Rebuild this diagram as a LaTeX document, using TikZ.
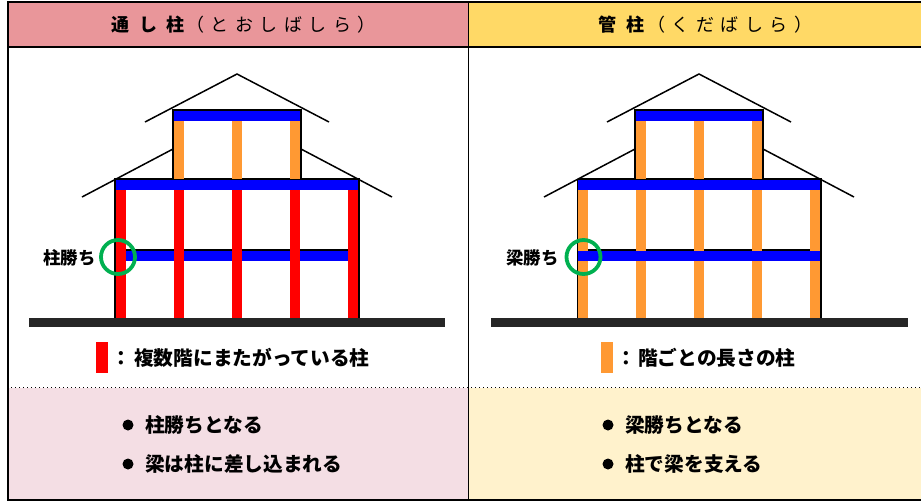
\documentclass[tikz,border=0pt]{standalone}
\usepackage{fontspec}
\setmainfont{Noto Sans CJK JP}
\newfontfamily\headbold[LetterSpace=55]{Noto Sans CJK JP}
\newfontfamily\headkana[LetterSpace=36]{Noto Sans CJK JP}
\begin{document}
\begin{tikzpicture}[x=1pt,y=-1pt]
	\tikzstyle{beam}=[fill={rgb,255:red,0;green,0;blue,255}]
	\tikzstyle{tori}=[fill={rgb,255:red,255;green,0;blue,0}]
	\tikzstyle{kuda}=[fill={rgb,255:red,255;green,153;blue,51}]
	\tikzstyle{ground}=[fill=black!85]
	\tikzstyle{roof}=[draw,line width=1.5pt]
	\tikzstyle{wall}=[draw,line width=2pt]
	\tikzstyle{ring}=[draw={rgb,255:red,0;green,176;blue,80},line width=3.8pt]
	\tikzstyle{label}=[inner sep=0pt,anchor=west,font=\bfseries\fontsize{17.4}{20}\selectfont]
	\tikzstyle{legend}=[inner sep=0pt,anchor=west,font=\bfseries\fontsize{19.7}{22}\selectfont]
	\tikzstyle{head}=[inner sep=0pt,anchor=west,font=\fontsize{18}{20}\selectfont]

	\useasboundingbox (0,0) rectangle (921,501);

	% colour panels
	\fill[fill={rgb,255:red,233;green,150;blue,154}] (7,2) rectangle (468,47);
	\fill[fill={rgb,255:red,255;green,217;blue,102}] (468,2) rectangle (921,47);
	\fill[fill={rgb,255:red,244;green,222;blue,228}] (7,388) rectangle (468,500);
	\fill[fill={rgb,255:red,255;green,242;blue,204}] (468,388) rectangle (921,500);

	% frame
	\draw[line width=2pt] (921,2) -- (7.5,2) -- (7.5,500) -- (921,500);
	\draw[line width=1.5pt] (7,47) -- (921,47);
	\draw[line width=1pt] (468.5,2) -- (468.5,500);
	\draw[line width=1pt,dash pattern=on 1pt off 3pt] (7,387) -- (921,387);

	% headers
	\node[head](toriBold) at (111,25){\headbold\bfseries 通し柱};
	\node[head](toriKana) at (186,25){\headkana（とおしばしら）};
	\node[head](kudaBold) at (598,25){\headbold\bfseries 管柱};
	\node[head](kudaKana) at (647,25){\headkana（くだばしら）};

	% left house
	\draw[roof] (145,122) -- (237,74) -- (329,122);
	\draw[roof] (173,149) -- (82,197);
	\draw[roof] (301,149) -- (392,197);
	\draw[wall] (173,179) -- (173,110) -- (301,110) -- (301,179);
	\draw[wall] (115,318) -- (115,179) -- (359,179) -- (359,318);
	\draw[line width=1.5pt] (126,250) -- (349,250);
	\fill[beam] (174,111) rectangle (300,121);
	\fill[beam] (116,180) rectangle (358,190);
	\fill[beam] (126,251) rectangle (349,261);
	\fill[kuda] (174,121) rectangle (184,179);
	\fill[kuda] (232,121) rectangle (242,179);
	\fill[kuda] (290,121) rectangle (300,179);
	\fill[tori] (116,190) rectangle (126,318);
	\fill[tori] (174,190) rectangle (184,318);
	\fill[tori] (232,190) rectangle (242,318);
	\fill[tori] (290,190) rectangle (300,318);
	\fill[tori] (348,190) rectangle (358,318);
	\fill[ground] (29,318) rectangle (445,327);
	\draw[ring] (118,257) circle (17);
	\node[label](toriLabel) at (43,258){柱勝ち};

	% right house
	\draw[roof] (607,122) -- (699,74) -- (791,122);
	\draw[roof] (635,149) -- (544,197);
	\draw[roof] (763,149) -- (854,197);
	\draw[wall] (635,179) -- (635,110) -- (763,110) -- (763,179);
	\draw[wall] (578,179) -- (821,179) -- (821,318);
	\draw[line width=1.5pt] (578,179) -- (578,318);
	\draw[line width=1.5pt] (578,250) -- (821,250);
	\fill[kuda] (636,121) rectangle (646,179);
	\fill[kuda] (694,121) rectangle (704,179);
	\fill[kuda] (752,121) rectangle (762,179);
	\fill[kuda] (578,190) rectangle (588,318);
	\fill[kuda] (636,190) rectangle (646,318);
	\fill[kuda] (694,190) rectangle (704,318);
	\fill[kuda] (752,190) rectangle (762,318);
	\fill[kuda] (810,190) rectangle (820,318);
	\fill[beam] (636,111) rectangle (762,121);
	\fill[beam] (578,180) rectangle (820,190);
	\fill[beam] (578,251) rectangle (820,261);
	\fill[ground] (491,318) rectangle (908,327);
	\draw[ring] (583.5,257) circle (17);
	\node[label](kudaLabel) at (506,258){梁勝ち};

	% legends
	\fill[tori] (96,342) rectangle (108,373);
	\node[legend](toriColon) at (111,358){：};
	\node[legend](toriLegend) at (134,358){複数階にまたがっている柱};
	\fill[kuda] (601,342) rectangle (613,373);
	\node[legend](kudaColon) at (616,358){：};
	\node[legend](kudaLegend) at (638,358){階ごとの長さの柱};

	% notes
	\node[legend](toriNoteA) at (145,425){柱勝ちとなる};
	\node[legend](toriNoteB) at (145,464){梁は柱に差し込まれる};
	\node[legend](kudaNoteA) at (625,425){梁勝ちとなる};
	\node[legend](kudaNoteB) at (625,464){柱で梁を支える};
	\fill (128,425) circle (5.5);
	\fill (128,464) circle (5.5);
	\fill (608,425) circle (5.5);
	\fill (608,464) circle (5.5);
\end{tikzpicture}
\end{document}
